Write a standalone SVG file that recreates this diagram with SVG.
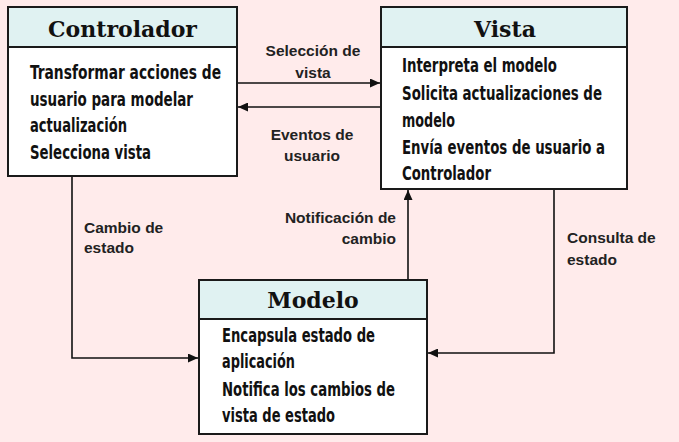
<svg xmlns="http://www.w3.org/2000/svg" width="679" height="442" viewBox="0 0 679 442">
<defs>
<style>
.box{fill:#ffffff;stroke:#1a1a1a;stroke-width:2}
.hdr{fill:#e0f2f2;stroke:#1a1a1a;stroke-width:2}
.title{font-family:"DejaVu Serif","Liberation Serif",serif;font-weight:bold;font-size:22px;fill:#111;text-anchor:middle}
.body{font-family:"Liberation Sans Narrow","DejaVu Sans Condensed","Liberation Sans",sans-serif;font-stretch:condensed;font-weight:bold;font-size:19.5px;fill:#111}
.lbl{font-family:"Liberation Sans",Arial,sans-serif;font-weight:bold;font-size:15.5px;fill:#222}
.conn{fill:none;stroke:#111;stroke-width:1.6}
</style>
<marker id="arr" markerUnits="userSpaceOnUse" markerWidth="11" markerHeight="9" refX="10" refY="4.5" orient="auto">
<path d="M0,0 L10,4.5 L0,9 z" fill="#111"/>
</marker>
</defs>
<rect width="679" height="442" fill="#ffebeb"/>

<g id="connectors">
<line class="conn" x1="237" y1="83" x2="380" y2="83" marker-end="url(#arr)"/>
<line class="conn" x1="381" y1="107" x2="238" y2="107" marker-end="url(#arr)"/>
<path class="conn" d="M72,176 V358 H198" marker-end="url(#arr)"/>
<path class="conn" d="M408,280 V190" marker-end="url(#arr)"/>
<path class="conn" d="M554,189 V353 H428" marker-end="url(#arr)"/>
<text class="lbl" x="313" y="56" text-anchor="middle">Selección de</text>
<text class="lbl" x="313" y="78" text-anchor="middle">vista</text>
<text class="lbl" x="312" y="140" text-anchor="middle">Eventos de</text>
<text class="lbl" x="312" y="161" text-anchor="middle">usuario</text>
<text class="lbl" x="84" y="233">Cambio de</text>
<text class="lbl" x="84" y="253">estado</text>
<text class="lbl" x="396" y="223" text-anchor="end">Notificación de</text>
<text class="lbl" x="396" y="244" text-anchor="end">cambio</text>
<text class="lbl" x="567" y="243">Consulta de</text>
<text class="lbl" x="567" y="265">estado</text>
</g>

<g id="controlador">
<rect class="box" x="8" y="7" width="229" height="169"/>
<rect class="hdr" x="8" y="7" width="229" height="40"/>
<text class="title" x="122.5" y="37">Controlador</text>
<text class="body" x="30" y="79" textLength="191" lengthAdjust="spacingAndGlyphs">Transformar acciones de</text>
<text class="body" x="30" y="106" textLength="163" lengthAdjust="spacingAndGlyphs">usuario para modelar</text>
<text class="body" x="30" y="132" textLength="97" lengthAdjust="spacingAndGlyphs">actualización</text>
<text class="body" x="30" y="159" textLength="121" lengthAdjust="spacingAndGlyphs">Selecciona vista</text>
</g>

<g id="vista">
<rect class="box" x="381" y="7" width="246" height="182"/>
<rect class="hdr" x="381" y="7" width="246" height="40"/>
<text class="title" x="505" y="37">Vista</text>
<text class="body" x="402" y="72" textLength="155" lengthAdjust="spacingAndGlyphs">Interpreta el modelo</text>
<text class="body" x="402" y="100" textLength="200" lengthAdjust="spacingAndGlyphs">Solicita actualizaciones de</text>
<text class="body" x="402" y="127" textLength="53" lengthAdjust="spacingAndGlyphs">modelo</text>
<text class="body" x="402" y="154" textLength="203" lengthAdjust="spacingAndGlyphs">Envía eventos de usuario a</text>
<text class="body" x="402" y="180" textLength="89" lengthAdjust="spacingAndGlyphs">Controlador</text>
</g>

<g id="modelo">
<rect class="box" x="199" y="280" width="228" height="154"/>
<rect class="hdr" x="199" y="280" width="228" height="39"/>
<text class="title" x="313" y="308">Modelo</text>
<text class="body" x="222" y="342" textLength="153" lengthAdjust="spacingAndGlyphs">Encapsula estado de</text>
<text class="body" x="222" y="368" textLength="73" lengthAdjust="spacingAndGlyphs">aplicación</text>
<text class="body" x="222" y="396" textLength="173" lengthAdjust="spacingAndGlyphs">Notifica los cambios de</text>
<text class="body" x="222" y="422" textLength="113" lengthAdjust="spacingAndGlyphs">vista de estado</text>
</g>
</svg>
